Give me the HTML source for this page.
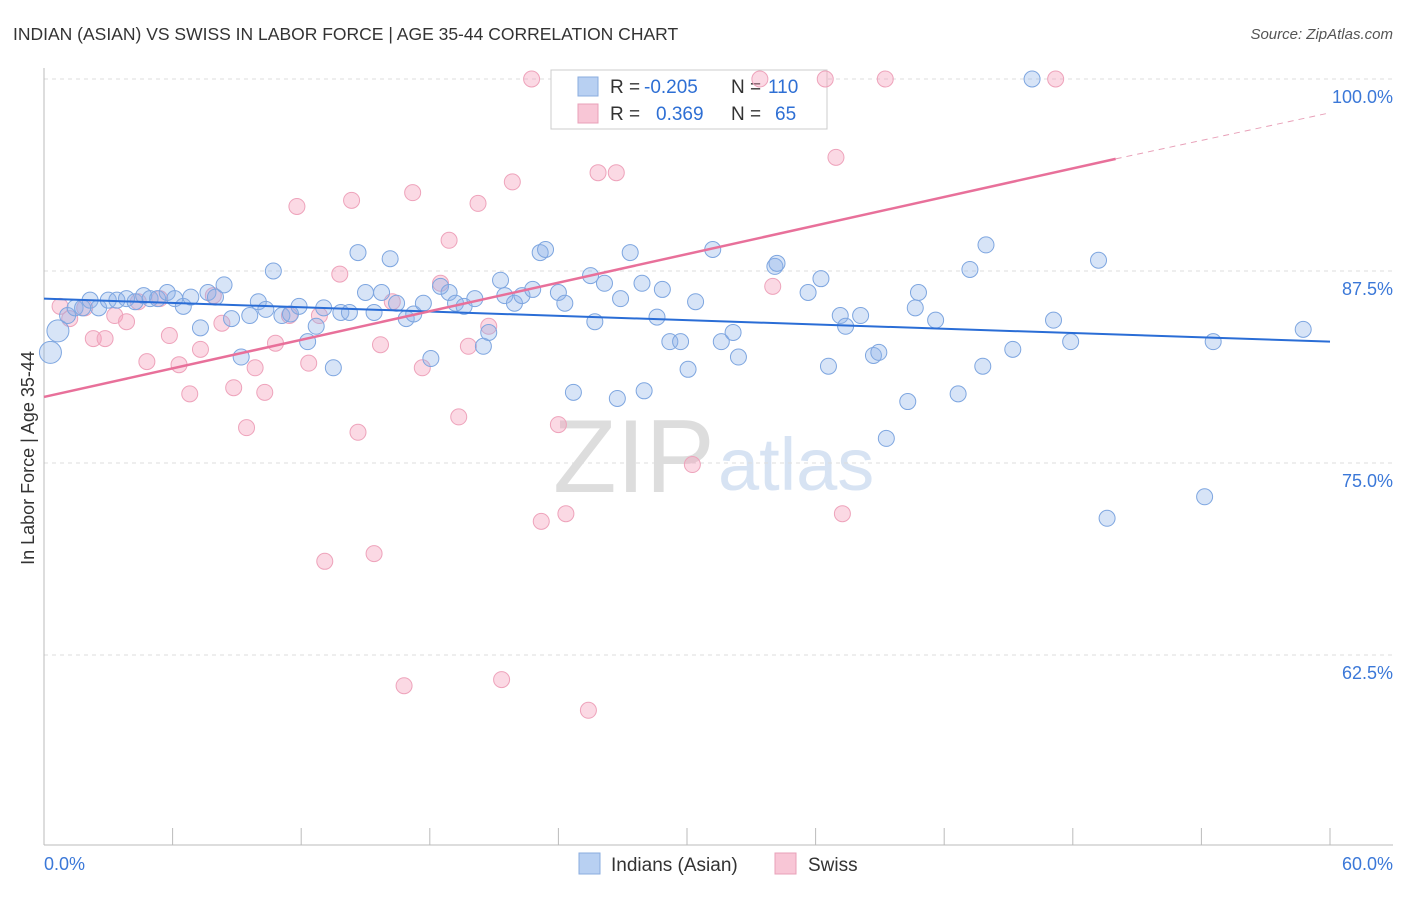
<!DOCTYPE html>
<html><head><meta charset="utf-8"><style>
body{margin:0;background:#fff;font-family:"Liberation Sans",sans-serif}
svg text{font-family:"Liberation Sans",sans-serif}
</style></head><body>
<svg id="chart" width="1406" height="892">
<text x="13" y="40" font-size="17.5" fill="#333">INDIAN (ASIAN) VS SWISS IN LABOR FORCE | AGE 35-44 CORRELATION CHART</text>
<text x="1393" y="39" font-size="15" fill="#555" text-anchor="end" font-style="italic">Source: ZipAtlas.com</text>
<text transform="translate(34,458) rotate(-90)" font-size="18" fill="#333" text-anchor="middle">In Labor Force | Age 35-44</text>
<text x="553" y="492" font-size="104" fill="#ddd" font-family="Liberation Serif">ZIP</text>
<text x="718" y="490" font-size="74" fill="#d7e3f3">atlas</text>
<g id="grid"></g><g id="axes"></g>
<g>
<rect x="551" y="70" width="276" height="59" fill="#fff" stroke="#ccc"/>
<rect x="578" y="77" width="20" height="19" fill="#b8d0f2" stroke="#8aacdf"/>
<rect x="578" y="104" width="20" height="19" fill="#f8c6d6" stroke="#e8a0b8"/>
<text x="610" y="93" font-size="19" fill="#333">R =</text>
<text x="644" y="93" font-size="19" fill="#2e6fd4">-0.205</text>
<text x="731" y="93" font-size="19" fill="#333">N =</text>
<text x="768" y="93" font-size="19" fill="#2e6fd4">110</text>
<text x="610" y="120" font-size="19" fill="#333">R =</text>
<text x="656" y="120" font-size="19" fill="#2e6fd4">0.369</text>
<text x="731" y="120" font-size="19" fill="#333">N =</text>
<text x="775" y="120" font-size="19" fill="#2e6fd4">65</text>
</g>
<g id="pts"></g><g id="trend"></g>
<g>
<rect x="579" y="853" width="21" height="21" fill="#b8d0f2" stroke="#8aacdf"/>
<text x="611" y="871" font-size="19" fill="#333">Indians (Asian)</text>
<rect x="775" y="853" width="21" height="21" fill="#f8c6d6" stroke="#e8a0b8"/>
<text x="808" y="871" font-size="19" fill="#333">Swiss</text>
</g>
</svg>
<script>
const yTicks=[100,87.5,75,62.5];
const yTickLabels=["100.0%","87.5%","75.0%","62.5%"];
const xTickLabels=["0.0%","60.0%"];
const blueX=[0.3,0.65,1.1,1.45,1.8,2.15,2.55,3.0,3.4,3.85,4.25,4.65,4.95,5.3,5.75,6.1,6.5,6.85,7.3,7.65,8.0,8.4,8.75,9.2,9.6,10.0,10.35,10.7,11.1,11.5,11.9,12.3,12.7,13.05,13.5,13.85,14.25,14.65,15.0,15.4,15.75,16.15,16.45,16.9,17.25,17.7,18.05,18.5,18.9,19.2,19.6,20.1,20.5,20.75,21.3,21.5,21.95,22.3,22.8,23.15,23.4,24.0,24.3,24.7,25.5,25.7,26.15,26.75,26.9,27.35,27.9,28.0,28.6,28.85,29.2,29.7,30.05,30.4,31.2,31.6,32.15,32.4,34.1,34.2,35.65,36.25,36.6,37.15,37.4,38.1,38.7,38.95,39.3,40.3,40.65,40.8,41.6,42.65,43.2,43.8,43.95,45.2,46.1,47.1,47.9,49.2,49.6,54.15,54.55,58.75];
const blueY=[82.2,83.6,84.6,85.1,85.1,85.6,85.1,85.6,85.6,85.7,85.5,85.9,85.7,85.7,86.1,85.7,85.2,85.8,83.8,86.1,85.8,86.6,84.4,81.9,84.6,85.5,85.0,87.5,84.6,84.7,85.2,82.9,83.9,85.1,81.2,84.8,84.8,88.7,86.1,84.8,86.1,88.3,85.4,84.4,84.7,85.4,81.8,86.5,86.1,85.4,85.2,85.7,82.6,83.5,86.9,85.9,85.4,85.9,86.3,88.7,88.9,86.1,85.4,79.6,87.2,84.2,86.7,79.2,85.7,88.7,86.7,79.7,84.5,86.3,82.9,82.9,81.1,85.5,88.9,82.9,83.5,81.9,87.8,88.0,86.1,87.0,81.3,84.6,83.9,84.6,82.0,82.2,76.6,79.0,85.1,86.1,84.3,79.5,87.6,81.3,89.2,82.4,100,84.3,82.9,88.2,71.4,72.8,82.9,83.7];
const pinkX=[0.75,1.2,1.9,2.3,2.85,3.3,3.85,4.4,4.8,5.4,5.85,6.3,6.8,7.3,7.9,8.3,8.85,9.45,9.85,10.3,10.8,11.45,11.8,12.35,12.85,13.1,13.8,14.35,14.65,15.4,15.7,16.25,16.8,17.2,17.65,18.5,18.9,19.35,19.8,20.25,20.75,21.35,21.85,22.75,23.2,24.0,24.35,25.4,25.85,26.7,30.25,33.4,34.0,36.45,36.95,37.25,39.25,47.2];
const pinkY=[85.2,84.4,85.1,83.1,83.1,84.6,84.2,85.5,81.6,85.7,83.3,81.4,79.5,82.4,85.9,84.1,79.9,77.3,81.2,79.6,82.8,84.6,91.7,81.5,84.6,68.6,87.3,92.1,77.0,69.1,82.7,85.5,60.5,92.6,81.2,86.7,89.5,78.0,82.6,91.9,83.9,60.9,93.3,100,71.2,77.5,71.7,58.9,93.9,93.9,74.9,100,86.5,100,94.9,71.7,100,100];
const bigBlue=[0,1];
const blueTrendX=[0,60], blueTrendY=[85.7,82.9];
const pinkTrendX=[0,50,60], pinkTrendY=[79.3,94.8,97.8];

const NS="http://www.w3.org/2000/svg";
const X=v=>44+v*(1330-44)/60;
const Y=v=>79+(100-v)*192/12.5;
function mk(tag,attrs,parent){const e=document.createElementNS(NS,tag);for(const k in attrs)e.setAttribute(k,attrs[k]);document.getElementById(parent).appendChild(e);return e;}
yTicks.forEach((t,i)=>{
 const l=mk('line',{x1:44,x2:1393,y1:Y(t),y2:Y(t),stroke:'#ddd','stroke-dasharray':'4,4'},'grid');
 
 
 const tx=mk('text',{x:1393,y:Y(t)+24,'font-size':18,fill:'#3b78d8','text-anchor':'end'},'grid');
 tx.textContent=yTickLabels[i];
 
 
});
const ax=mk('line',{x1:44,x2:1393,y1:845,y2:845,stroke:'#bbb'},'axes');


const ay=mk('line',{x1:44,x2:44,y1:68,y2:845,stroke:'#bbb'},'axes');


for(let i=0;i<=10;i++){const t=mk('line',{x1:X(i*6),x2:X(i*6),y1:828,y2:845,stroke:'#bbb'},'axes');
 
 }
[[0,'start',44],[60,'end',1393]].forEach((d,i)=>{const t=mk('text',{x:d[2],y:870,'font-size':18,fill:'#3b78d8','text-anchor':d[1]},'axes');t.textContent=xTickLabels[i];
 
 });
pinkX.forEach((v,i)=>{const c=mk('circle',{cx:X(v),cy:Y(pinkY[i]),r:8,fill:'rgba(244,160,188,0.4)',stroke:'#eea3bb','stroke-width':1},'pts');
 
 });
blueX.forEach((v,i)=>{const c=mk('circle',{cx:X(v),cy:Y(blueY[i]),r:bigBlue.includes(i)?11:8,fill:'rgba(140,178,232,0.35)',stroke:'#7ea6e0','stroke-width':1},'pts');
 
 });
const bt=mk('line',{x1:X(blueTrendX[0]),y1:Y(blueTrendY[0]),x2:X(blueTrendX[1]),y2:Y(blueTrendY[1]),stroke:'#2a6dd6','stroke-width':2},'trend');


const pt=mk('line',{x1:X(pinkTrendX[0]),y1:Y(pinkTrendY[0]),x2:X(pinkTrendX[1]),y2:Y(pinkTrendY[1]),stroke:'#e8709a','stroke-width':2.5},'trend');


const pd=mk('line',{x1:X(pinkTrendX[1]),y1:Y(pinkTrendY[1]),x2:X(pinkTrendX[2]),y2:Y(pinkTrendY[2]),stroke:'#e8a0b8','stroke-width':1,'stroke-dasharray':'6,5'},'trend');


</script>
</body></html>
